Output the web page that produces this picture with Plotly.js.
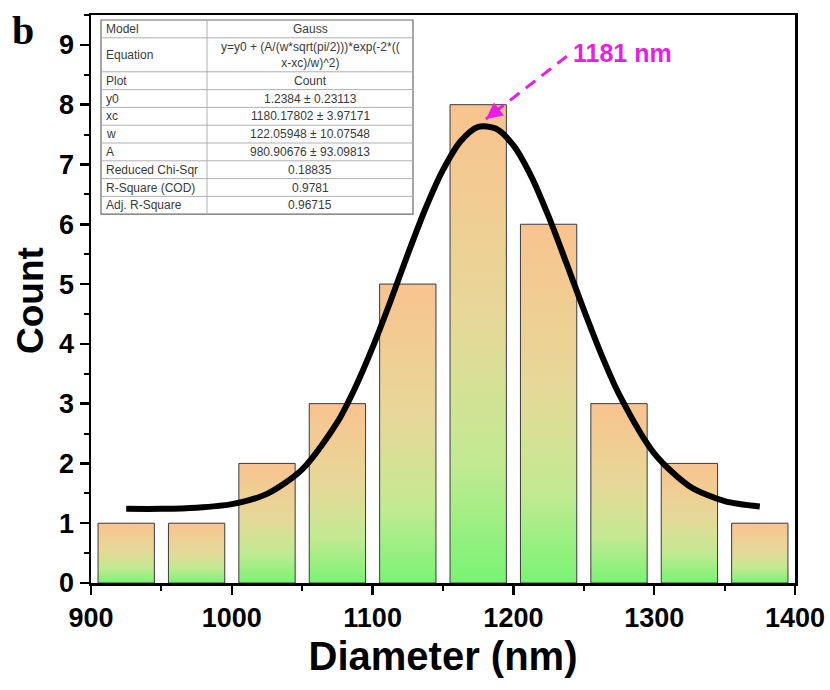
<!DOCTYPE html>
<html>
<head>
<meta charset="utf-8">
<script src="https://cdn.plot.ly/plotly-3.0.1.min.js"></script>
<style>
  html, body { margin: 0; padding: 0; background: #fff; }
  #chart { width: 830px; height: 690px; }
</style>
</head>
<body>
<div id="chart"></div>
<script>
// ---- data ----
const binCenters = [925, 975, 1025, 1075, 1125, 1175, 1225, 1275, 1325, 1375];
const counts     = [1, 1, 2, 3, 5, 8, 6, 3, 2, 1];
const binWidth = 40;

// Gauss fit curve
const fitX = [925, 950, 975, 1000, 1025, 1050, 1075, 1087.5, 1100, 1112.5, 1125, 1137.5, 1150, 1162.5, 1175, 1187.5, 1200, 1212.5, 1225, 1237.5, 1250, 1262.5, 1275, 1300, 1325, 1350, 1375];
const fitY = [1.24, 1.24, 1.26, 1.32, 1.49, 1.90, 2.69, 3.26, 3.94, 4.70, 5.50, 6.26, 6.91, 7.39, 7.63, 7.60, 7.32, 6.81, 6.13, 5.36, 4.57, 3.82, 3.16, 2.17, 1.62, 1.37, 1.28];

// fit-parameter table
const tableLabels = ["Model", "Equation", "Plot", "y0", "xc", "w", "A", "Reduced Chi-Sqr", "R-Square (COD)", "Adj. R-Square"];
const tableValues = ["Gauss", "y=y0 + (A/(w*sqrt(pi/2)))*exp(-2*((<br>x-xc)/w)^2)", "Count", "1.2384 ± 0.23113",
                     "1180.17802 ± 3.97171", "122.05948 ± 10.07548", "980.90676 ± 93.09813",
                     "0.18835", "0.9781", "0.96715"];

const peakLabel = "1181 nm";
const peakX = 1180.5, peakY = 7.76;
const xTickVals = [900, 1000, 1100, 1200, 1300, 1400];
const yTickVals = [0, 1, 2, 3, 4, 5, 6, 7, 8, 9];

// ---- geometry of the page ----
const W = 830, H = 690;
const M = { l: 91, r: 35, t: 15, b: 107 };
const PW = W - M.l - M.r, PH = H - M.t - M.b;
const px2x = function (px) { return (px - M.l) / PW; };
const px2y = function (py) { return 1 - (py - M.t) / PH; };

const FONT = 'Liberation Sans, Arial, sans-serif';
const MAGENTA = '#e81ee6';

const bars = {
  type: 'bar', x: binCenters, y: counts, width: binWidth,
  marker: { color: '#f9c38f', line: { color: '#3a3a3a', width: 1 } },
  hoverinfo: 'skip', showlegend: false
};
const fit = {
  type: 'scatter', mode: 'lines', x: fitX, y: fitY,
  line: { color: '#000', width: 6, shape: 'spline', smoothing: 0.8 },
  hoverinfo: 'skip', showlegend: false
};

// ---- table built from shapes + annotations ----
const tLeft = 101, tRight = 413, tDiv = 207, tTop = 20;
const rowH = tableLabels.map(function (l, i) { return i === 1 ? 34 : 17.8; });
const shapes = [];
const annotations = [];
let yCur = tTop;
const rowEdges = [yCur];
rowH.forEach(function (h) { yCur += h; rowEdges.push(yCur); });
const tBottom = yCur;
shapes.push({ type: 'rect', xref: 'paper', yref: 'paper', x0: px2x(tLeft), x1: px2x(tRight), y0: px2y(tTop), y1: px2y(tBottom),
  fillcolor: '#ffffff', line: { color: '#6a6a6a', width: 1.2 }, layer: 'above' });
shapes.push({ type: 'line', xref: 'paper', yref: 'paper', x0: px2x(tDiv), x1: px2x(tDiv), y0: px2y(tTop), y1: px2y(tBottom),
  line: { color: '#b0b0b0', width: 1 }, layer: 'above' });
for (let i = 1; i < rowEdges.length - 1; i++) {
  shapes.push({ type: 'line', xref: 'paper', yref: 'paper', x0: px2x(tLeft), x1: px2x(tRight), y0: px2y(rowEdges[i]), y1: px2y(rowEdges[i]),
    line: { color: '#b0b0b0', width: 1 }, layer: 'above' });
}
for (let i = 0; i < tableLabels.length; i++) {
  const yc = px2y((rowEdges[i] + rowEdges[i + 1]) / 2);
  annotations.push({ xref: 'paper', yref: 'paper', x: px2x(tLeft + 3), y: yc, xanchor: 'left', yanchor: 'middle',
    text: tableLabels[i], showarrow: false, font: { family: FONT, size: 12, color: '#3a3a3a' } });
  annotations.push({ xref: 'paper', yref: 'paper', x: px2x((tDiv + tRight) / 2), y: yc, xanchor: 'center', yanchor: 'middle',
    text: tableValues[i], showarrow: false, font: { family: FONT, size: 12, color: '#3a3a3a' } });
}

// panel letter, axis title, peak label
annotations.push({ xref: 'paper', yref: 'paper', x: px2x(23), y: px2y(31), xanchor: 'center', yanchor: 'middle', text: 'b', showarrow: false,
  font: { family: 'Liberation Serif, Times New Roman, serif', size: 40, color: '#000', weight: 'bold' } });
annotations.push({ xref: 'paper', yref: 'paper', x: px2x(30), y: px2y(300), xanchor: 'center', yanchor: 'middle', text: 'Count', textangle: -90,
  showarrow: false, font: { family: FONT, size: 37, color: '#000', weight: 'bold' } });
annotations.push({ xref: 'x', yref: 'y', x: peakX, y: peakY, ax: 1239, ay: 8.83, axref: 'x', ayref: 'y',
  text: '', showarrow: true, arrowhead: 2, arrowsize: 1.1, arrowwidth: 3, arrowcolor: MAGENTA });
annotations.push({ xref: 'x', yref: 'y', x: 1241, y: 8.87, xanchor: 'left', yanchor: 'middle', text: peakLabel, showarrow: false,
  font: { family: FONT, size: 25, color: MAGENTA, weight: 'bold' } });

const axisCommon = {
  showline: true, linecolor: '#000', linewidth: 2.5, mirror: true,
  ticks: 'outside', ticklen: 9, tickwidth: 2.5, tickcolor: '#000',
  showgrid: false, zeroline: false,
  tickfont: { family: FONT, size: 27, color: '#000', weight: 'bold' }
};

const layout = {
  width: W, height: H,
  margin: M,
  paper_bgcolor: '#fff', plot_bgcolor: '#fff',
  bargap: 0,
  xaxis: Object.assign({}, axisCommon, {
    range: [900, 1400], tickvals: xTickVals,
    minor: { dtick: 50, tick0: 900, ticks: 'outside', ticklen: 5, tickwidth: 2, tickcolor: '#000' },
    title: { text: 'Diameter (nm)', standoff: 10,
      font: { family: FONT, size: 40, color: '#000', weight: 'bold' } }
  }),
  yaxis: Object.assign({}, axisCommon, {
    range: [0, 9.5], tickvals: yTickVals,
    minor: { dtick: 0.5, tick0: 0, ticks: 'outside', ticklen: 5, tickwidth: 2, tickcolor: '#000' }
  }),
  shapes: shapes,
  annotations: annotations
};

Plotly.newPlot('chart', [bars, fit], layout, { staticPlot: true }).then(function (gd) {
  const svg = gd.querySelector('svg.main-svg');
  const ns = 'http://www.w3.org/2000/svg';
  let defs = svg.querySelector('defs');
  if (!defs) { defs = document.createElementNS(ns, 'defs'); svg.insertBefore(defs, svg.firstChild); }
  const grad = document.createElementNS(ns, 'linearGradient');
  grad.setAttribute('id', 'barGrad');
  grad.setAttribute('x1', '0'); grad.setAttribute('y1', '0');
  grad.setAttribute('x2', '0'); grad.setAttribute('y2', '1');
  [['0', '#f9c38f'], ['0.45', '#e6d898'], ['0.75', '#c2ea92'], ['1', '#78f473']].forEach(function (s) {
    const st = document.createElementNS(ns, 'stop');
    st.setAttribute('offset', s[0]); st.setAttribute('stop-color', s[1]);
    grad.appendChild(st);
  });
  defs.appendChild(grad);
  gd.querySelectorAll('.barlayer .point path').forEach(function (p) { p.style.fill = 'url(#barGrad)'; });
  gd.querySelectorAll('.annotation-arrow-g path').forEach(function (p, i) {
    if (i === 0) p.style.strokeDasharray = '12,8';
  });
});
</script>
</body>
</html>
